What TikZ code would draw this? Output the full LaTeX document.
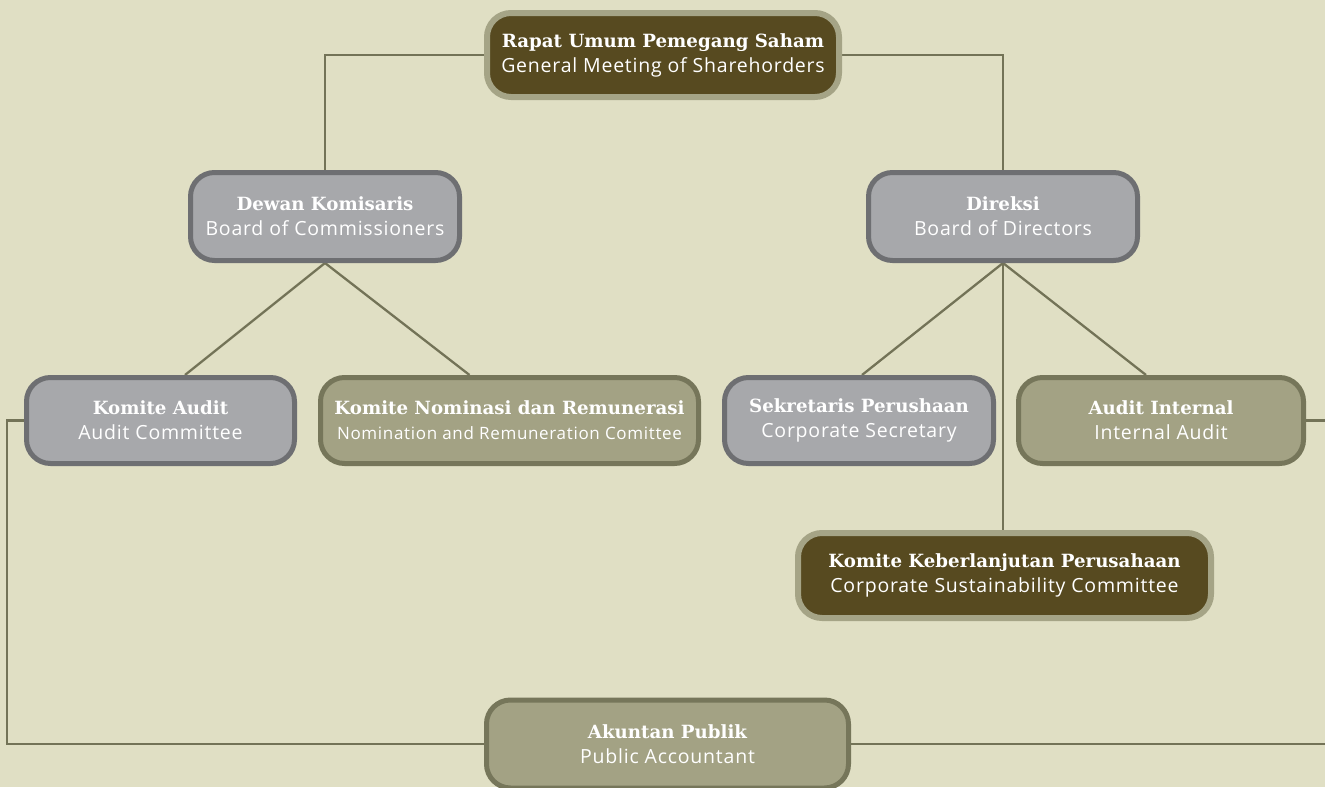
\documentclass[tikz,border=0pt]{standalone}
\usepackage{fontspec}
\setmainfont{Open Sans}[LetterSpace=4]
\newfontfamily\slabfont{DejaVu Serif}
\usetikzlibrary{positioning}
\pgfdeclarelayer{background}
\pgfsetlayers{background,main}

\definecolor{bgcream}{HTML}{E0DFC4}
\definecolor{linkcol}{HTML}{737357}
\definecolor{darkfill}{HTML}{574A20}
\definecolor{darkrim}{HTML}{A5A486}
\definecolor{greyfill}{HTML}{A7A8AB}
\definecolor{greyrim}{HTML}{6E6F72}
\definecolor{olivefill}{HTML}{A3A284}
\definecolor{oliverim}{HTML}{76765A}

\tikzset{
  unit/.style={rounded corners=24pt, align=center, text=white, inner sep=0pt,
    font=\fontsize{19.5}{25}\selectfont, minimum height=86pt},
  darkbox/.style={unit, fill=darkfill, draw=darkrim, line width=6pt},
  greybox/.style={unit, fill=greyfill, draw=greyrim, line width=5pt},
  olivebox/.style={unit, fill=olivefill, draw=oliverim, line width=5pt},
  link/.style={draw=linkcol, line width=2.3pt},
}
\newcommand{\headline}[1]{{\slabfont\bfseries\fontsize{18.2}{25}\selectfont #1}}

\begin{document}
\begin{tikzpicture}[x=1pt,y=-1pt]
\useasboundingbox (0,0) rectangle (1325,787);
\clip (0,0) rectangle (1325,787);

\node[darkbox, minimum width=352pt, minimum height=84pt] (rups) at (663,55)
  {\headline{Rapat Umum Pemegang Saham}\\General Meeting of Sharehorders};

\node[greybox, minimum width=269pt, minimum height=88pt] (dekom) at (325,216.5)
  {\headline{Dewan Komisaris}\\Board of Commissioners};
\node[greybox, minimum width=269pt, minimum height=88pt] (direksi) at (1003,216.5)
  {\headline{Direksi}\\Board of Directors};

\node[greybox, minimum width=268pt] (kaudit) at (160.5,420.5)
  {\headline{Komite Audit}\\Audit Committee};
\node[olivebox, minimum width=378pt] (knr) at (509.5,420.5)
  {\headline{Komite Nominasi dan Remunerasi}\\{\fontsize{17}{22}\selectfont Nomination and Remuneration Comittee}};
\node[greybox, minimum width=269pt] (sekper) at (859,420.5)
  {\headline{Sekretaris Perushaan}\\Corporate Secretary};
\node[olivebox, minimum width=285pt] (ai) at (1161,420.5)
  {\headline{Audit Internal}\\Internal Audit};

\node[darkbox, minimum width=413pt, minimum height=85pt] (kkp) at (1004.5,575.5)
  {\headline{Komite Keberlanjutan Perusahaan}\\Corporate Sustainability Committee};

\node[olivebox, minimum width=362pt, minimum height=88pt] (ap) at (667.5,744)
  {\headline{Akuntan Publik}\\Public Accountant};

\coordinate (leftrail) at (7,0);
\coordinate (rightrail) at (1340,0);

\begin{pgfonlayer}{background}
  \fill[bgcream] (0,0) rectangle (1325,787);
  \draw[link] (rups.west) -| (dekom.north);
  \draw[link] (rups.east) -| (direksi.north);
  \draw[link] (dekom.south) -- ([xshift=24.5pt]kaudit.north);
  \draw[link] (dekom.south) -- ([xshift=-40pt]knr.north);
  \draw[link] (direksi.south) -- ([xshift=3pt]sekper.north);
  \draw[link] (direksi.south) -- ([xshift=-15pt]ai.north);
  \draw[link] (direksi.south) -- (direksi.south |- kkp.north);
  \draw[link] (kaudit.west) -| (leftrail |- ap.west) -- (ap.west);
  \draw[link] (ai.east) -| (rightrail |- ap.east) -- (ap.east);
\end{pgfonlayer}
\end{tikzpicture}
\end{document}
